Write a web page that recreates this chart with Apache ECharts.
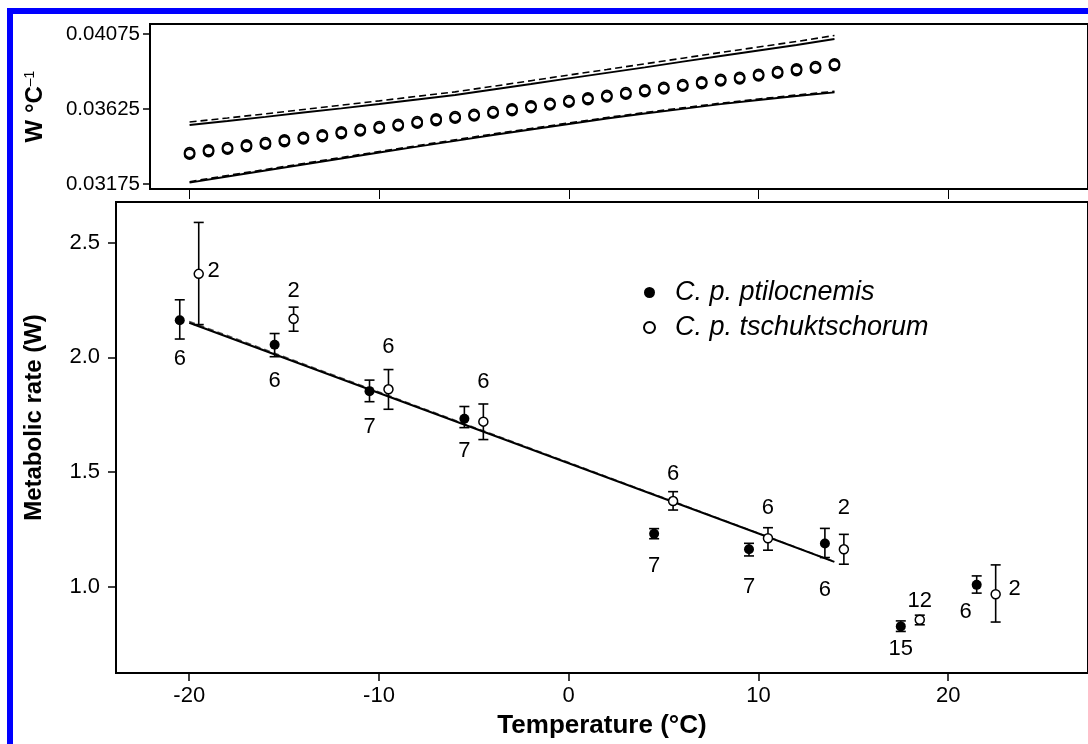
<!DOCTYPE html>
<html>
<head>
<meta charset="utf-8">
<script src="https://cdn.jsdelivr.net/npm/echarts@6/dist/echarts.min.js"></script>
<style>
html,body{margin:0;padding:0;background:#fff;}
#chart{width:1088px;height:744px;}
</style>
</head>
<body>
<div id="chart"></div>
<script>
// ---------- Data ----------
// Top panel: slope (W °C^-1) versus temperature
const slopeTemp = [-20,-19,-18,-17,-16,-15,-14,-13,-12,-11,-10,-9,-8,-7,-6,-5,-4,-3,-2,-1,0,1,2,3,4,5,6,7,8,9,10,11,12,13,14];
const slopeMean = [0.03363,0.03379,0.03393,0.03409,0.03423,0.03439,0.03455,0.03469,0.03487,0.03503,0.03519,0.03533,0.03549,0.03565,0.03579,0.03593,0.03609,0.03625,0.03643,0.03659,0.03675,0.03691,0.03707,0.03723,0.03739,0.03755,0.03771,0.03787,0.03803,0.03815,0.03833,0.03849,0.03865,0.03879,0.03895];
const ciTemp = [-20,-18,-16,-14,-12,-10,-8,-6,-4,-2,0,2,4,6,8,10,12,14];
const ciUpper = [0.03529,0.03553,0.03578,0.03604,0.03629,0.03655,0.03682,0.03709,0.03742,0.03775,0.03809,0.03842,0.03875,0.03909,0.03943,0.03976,0.04009,0.04045];
const ciUpperAlt = [0.03547,0.03571,0.03596,0.03622,0.03648,0.03674,0.03701,0.03728,0.03761,0.03795,0.03829,0.03862,0.03896,0.03930,0.03964,0.03997,0.04030,0.04066];
const ciLower = [0.03183,0.03220,0.03256,0.03292,0.03328,0.03364,0.03399,0.03434,0.03469,0.03502,0.03535,0.03568,0.03598,0.03626,0.03654,0.03679,0.03703,0.03725];
const ciLowerAlt = [0.03189,0.03226,0.03262,0.03298,0.03334,0.03370,0.03405,0.03440,0.03475,0.03508,0.03541,0.03574,0.03604,0.03632,0.03660,0.03685,0.03709,0.03731];
const slopeTicks = [0.03175, 0.03625, 0.04075];

// Bottom panel: metabolic rate (W)
const ptiName = 'C. p. ptilocnemis';
const ptiTemp = [-20.5,-15.5,-10.5,-5.5,4.5,9.5,13.5,17.5,21.5];
const ptiMean = [2.162,2.055,1.853,1.733,1.232,1.164,1.189,0.828,1.009];
const ptiLow  = [2.080,2.003,1.807,1.694,1.210,1.135,1.128,0.806,0.973];
const ptiHigh = [2.251,2.104,1.901,1.786,1.254,1.190,1.255,0.852,1.048];
const ptiN    = [6,6,7,7,7,7,6,15,6];

const tscName = 'C. p. tschuktschorum';
const tscTemp = [-19.5,-14.5,-9.5,-4.5,5.5,10.5,14.5,18.5,22.5];
const tscMean = [2.364,2.168,1.861,1.720,1.374,1.212,1.164,0.857,0.968];
const tscLow  = [2.143,2.114,1.774,1.642,1.335,1.160,1.099,0.835,0.847];
const tscHigh = [2.588,2.219,1.947,1.797,1.415,1.258,1.229,0.877,1.096];
const tscN    = [2,2,6,6,6,6,2,12,2];

const regTemp = [-20,-10,0,10,14];
const regFit = [2.151,1.845,1.539,1.233,1.109];
const regFitAlt = [2.157,1.849,1.542,1.234,1.110];

const tempTicks = [-20,-10,0,10,20];
const rateTicks = [1.0,1.5,2.0,2.5];

// ---------- Styling (label offsets in pixels) ----------
const ptiLabelOffset = [[0,39],[0,36],[0,36],[0,32],[0,32],[0,38],[0,46],[0,23],[-11,27]];
const tscLabelOffset = [[15,-3],[0,-28],[0,-42],[0,-40],[0,-27],[0,-30],[0,-41],[0,-19],[19,-5]];

const FONT = '"Liberation Sans", Arial, Helvetica, sans-serif';
const zip = (a,b) => a.map((v,i)=>[v,b[i]]);

function errRender(offsets){
  return function(params, api){
    const x = api.value(0), m = api.value(1), lo = api.value(2), hi = api.value(3), n = api.value(4);
    const pLo = api.coord([x, lo]), pHi = api.coord([x, hi]), pM = api.coord([x, m]);
    const hw = 5;
    const st = {stroke:'#000', lineWidth:1.6};
    const off = offsets[params.dataIndex];
    return {
      type:'group',
      children:[
        {type:'line', shape:{x1:pLo[0], y1:pLo[1], x2:pHi[0], y2:pHi[1]}, style:st},
        {type:'line', shape:{x1:pLo[0]-hw, y1:pLo[1], x2:pLo[0]+hw, y2:pLo[1]}, style:st},
        {type:'line', shape:{x1:pHi[0]-hw, y1:pHi[1], x2:pHi[0]+hw, y2:pHi[1]}, style:st},
        {type:'text', style:{text:String(n), x:pM[0]+off[0], y:pM[1]+off[1], fill:'#000',
          fontSize:22, fontFamily:FONT, align:'center', verticalAlign:'middle'}}
      ]
    };
  };
}

const chart = echarts.init(document.getElementById('chart'), null, {renderer:'canvas'});

const axisLineStyle = {show:true, onZero:false, lineStyle:{color:'#000', width:2}};

const option = {
  backgroundColor:'#fff',
  animation:false,
  textStyle:{fontFamily:FONT, color:'#000'},
  graphic:[
    {type:'rect', shape:{x:7, y:8, width:6, height:736}, style:{fill:'#0000ff'}, z:100},
    {type:'rect', shape:{x:7, y:8, width:1081, height:6}, style:{fill:'#0000ff'}, z:100}
  ],
  legend:{
    orient:'vertical',
    left:638, top:274,
    itemWidth:11, itemHeight:11,
    itemGap:8,
    icon:'circle',
    data:[ptiName, tscName],
    textStyle:{fontFamily:FONT, fontStyle:'italic', fontSize:27, color:'#000', padding:[0,0,0,15]}
  },
  grid:[
    {left:150, top:24, height:165, right:-10, show:true, borderColor:'#000', borderWidth:2, backgroundColor:'transparent'},
    {left:116, top:202, height:472, right:-10, show:true, borderColor:'#000', borderWidth:2, backgroundColor:'transparent'}
  ],
  xAxis:[
    {type:'value', gridIndex:0, min:-22.087, max:27.366,
      axisLine:axisLineStyle,
      axisTick:{show:true, length:10, lineStyle:{color:'#000', width:1}, customValues:tempTicks},
      axisLabel:{show:false}, splitLine:{show:false}},
    {type:'value', gridIndex:1, min:-23.86, max:27.366,
      name:'Temperature (°C)', nameLocation:'middle', nameGap:40,
      nameTextStyle:{fontFamily:FONT, fontWeight:'bold', fontSize:26, color:'#000'},
      axisLine:axisLineStyle,
      axisTick:{show:true, length:8, lineStyle:{color:'#000', width:1.5}, customValues:tempTicks},
      axisLabel:{show:true, margin:12, fontSize:22, fontFamily:FONT, color:'#000', customValues:tempTicks,
        formatter:v=>String(v)},
      splitLine:{show:false}}
  ],
  yAxis:[
    {type:'value', gridIndex:0, min:0.03145, max:0.04135,
      name:'W °C{sup|–1}', nameLocation:'middle', nameGap:103, nameRotate:90,
      nameTextStyle:{fontFamily:FONT, fontWeight:'bold', fontSize:24, color:'#000',
        rich:{sup:{fontFamily:FONT, fontWeight:'normal', fontSize:14, color:'#000', verticalAlign:'top', padding:[0,0,10,0]}}},
      axisLine:axisLineStyle,
      axisTick:{show:true, length:7, lineStyle:{color:'#000', width:1.5}, customValues:slopeTicks},
      axisLabel:{show:true, margin:10, fontSize:20.5, fontFamily:FONT, color:'#000', customValues:slopeTicks,
        formatter:v=>Number(v).toFixed(5)},
      splitLine:{show:false}},
    {type:'value', gridIndex:1, min:0.625, max:2.677,
      name:'Metabolic rate (W)', nameLocation:'middle', nameGap:70, nameRotate:90,
      nameTextStyle:{fontFamily:FONT, fontWeight:'bold', fontSize:24, color:'#000', padding:[0,0,0,40]},
      axisLine:axisLineStyle,
      axisTick:{show:true, length:8, lineStyle:{color:'#000', width:1.5}, customValues:rateTicks},
      axisLabel:{show:true, margin:16, fontSize:22, fontFamily:FONT, color:'#000', customValues:rateTicks,
        formatter:v=>Number(v).toFixed(1)},
      splitLine:{show:false}}
  ],
  series:[
    // top panel
    {type:'line', xAxisIndex:0, yAxisIndex:0, data:zip(ciTemp, ciUpperAlt), symbol:'none',
      lineStyle:{color:'#000', width:1.6, type:[7,4]}, z:2},
    {type:'line', xAxisIndex:0, yAxisIndex:0, data:zip(ciTemp, ciUpper), symbol:'none',
      lineStyle:{color:'#000', width:1.8}, z:2},
    {type:'line', xAxisIndex:0, yAxisIndex:0, data:zip(ciTemp, ciLowerAlt), symbol:'none',
      lineStyle:{color:'#000', width:1.6, type:[7,4]}, z:2},
    {type:'line', xAxisIndex:0, yAxisIndex:0, data:zip(ciTemp, ciLower), symbol:'none',
      lineStyle:{color:'#000', width:1.8}, z:2},
    {type:'scatter', xAxisIndex:0, yAxisIndex:0, data:zip(slopeTemp, slopeMean), symbol:'circle', symbolSize:10,
      itemStyle:{color:'#fff', borderColor:'#000', borderWidth:1.8, shadowColor:'#000', shadowOffsetY:1.5, shadowBlur:0, opacity:1}, z:3},
    // bottom panel
    {type:'line', xAxisIndex:1, yAxisIndex:1, data:zip(regTemp, regFitAlt), symbol:'none',
      lineStyle:{color:'#555', width:1.5, type:[6,4]}, z:2},
    {type:'line', xAxisIndex:1, yAxisIndex:1, data:zip(regTemp, regFit), symbol:'none',
      lineStyle:{color:'#000', width:2}, z:2},
    {type:'custom', xAxisIndex:1, yAxisIndex:1, renderItem:errRender(ptiLabelOffset),
      data:ptiTemp.map((t,i)=>[t, ptiMean[i], ptiLow[i], ptiHigh[i], ptiN[i]]), z:3},
    {type:'custom', xAxisIndex:1, yAxisIndex:1, renderItem:errRender(tscLabelOffset),
      data:tscTemp.map((t,i)=>[t, tscMean[i], tscLow[i], tscHigh[i], tscN[i]]), z:3},
    {type:'scatter', name:ptiName, xAxisIndex:1, yAxisIndex:1, data:zip(ptiTemp, ptiMean),
      symbol:'circle', symbolSize:10, itemStyle:{color:'#000', borderColor:'#000', borderWidth:0, opacity:1}, z:4},
    {type:'scatter', name:tscName, xAxisIndex:1, yAxisIndex:1, data:zip(tscTemp, tscMean),
      symbol:'circle', symbolSize:9, itemStyle:{color:'#fff', borderColor:'#000', borderWidth:1.5, opacity:1}, z:4}
  ]
};
chart.setOption(option);
</script>
</body>
</html>
